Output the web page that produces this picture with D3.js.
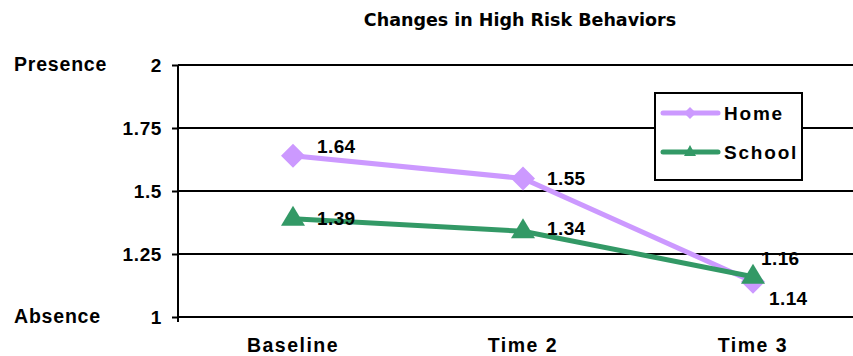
<!DOCTYPE html>
<html>
<head>
<meta charset="utf-8">
<script src="https://cdn.jsdelivr.net/npm/d3@7"></script>
<style>
  html, body { margin: 0; padding: 0; background: #fff; }
  svg { display: block; }
  text { font-family: "Liberation Sans", Arial, sans-serif; font-weight: bold; fill: #000; }
</style>
</head>
<body>
<svg id="chart" width="853" height="356"></svg>
<script>
// Chart data
const categories = ["Baseline", "Time 2", "Time 3"];
const homeValues = [1.64, 1.55, 1.14];
const schoolValues = [1.39, 1.34, 1.16];
const yTicks = [1, 1.25, 1.5, 1.75, 2];
const yTickLabels = ["1", "1.25", "1.5", "1.75", "2"];
const seriesNames = ["Home", "School"];

const svg = d3.select("#chart");
const W = 853, H = 356;

const x = d3.scaleBand().domain(categories).range([178, 868]);
const y = d3.scaleLinear().domain([1, 2]).range([317, 65]);

const purple = "#CC99FF";
const green = "#339966";

// Title
svg.append("text")
  .attr("x", 520).attr("y", 26)
  .attr("text-anchor", "middle")
  .style("font-family", "'DejaVu Sans', sans-serif")
  .style("font-size", "17.5px")
  .text("Changes in High Risk Behaviors");

// Horizontal gridlines
svg.append("g").selectAll("line").data(yTicks).join("line")
  .attr("x1", 178).attr("x2", W)
  .attr("y1", d => y(d)).attr("y2", d => y(d))
  .attr("stroke", "#000").attr("stroke-width", 2);

// Y axis with outward ticks
const yAxis = d3.axisLeft(y)
  .tickValues(yTicks)
  .tickFormat((d, i) => yTickLabels[i])
  .tickSize(6).tickPadding(10);
const gy = svg.append("g").attr("transform", "translate(178,0)").call(yAxis);
gy.select(".domain").remove();
gy.selectAll(".tick line").attr("stroke", "#000").attr("stroke-width", 2);
gy.selectAll(".tick text")
  .style("font-size", "19px")
  .style("letter-spacing", "0.6px")
  .style("font-family", "'Liberation Sans', Arial, sans-serif")
  .style("font-weight", "bold")
  .attr("dy", "0.36em")
  .attr("fill", "#000");
svg.append("line")
  .attr("x1", 178).attr("x2", 178)
  .attr("y1", y(2)).attr("y2", y(1) + 5)
  .attr("stroke", "#000").attr("stroke-width", 2);

// Presence / Absence anchors
svg.append("text").attr("x", 14).attr("y", y(2) + 6)
  .style("font-size", "19.5px").style("letter-spacing", "0.8px").text("Presence");
svg.append("text").attr("x", 14).attr("y", y(1) + 6)
  .style("font-size", "19.5px").style("letter-spacing", "0.8px").text("Absence");

// Category labels
svg.append("g").selectAll("text").data(categories).join("text")
  .attr("x", d => x(d) + x.bandwidth() / 2)
  .attr("y", 352)
  .attr("text-anchor", "middle")
  .style("font-size", "19.5px")
  .style("letter-spacing", "1.5px")
  .text(d => d);

const cx = d => x(d) + x.bandwidth() / 2;
const line = d3.line().x(d => cx(d.c)).y(d => y(d.v));

const home = categories.map((c, i) => ({ c, v: homeValues[i] }));
const school = categories.map((c, i) => ({ c, v: schoolValues[i] }));

// Home series
svg.append("path").datum(home).attr("d", line)
  .attr("fill", "none").attr("stroke", purple).attr("stroke-width", 5);
svg.append("g").selectAll("path").data(home).join("path")
  .attr("transform", d => `translate(${cx(d.c)},${y(d.v)})`)
  .attr("d", "M0,-12L12,0L0,12L-12,0Z")
  .attr("fill", purple);

// School series
svg.append("path").datum(school).attr("d", line)
  .attr("fill", "none").attr("stroke", green).attr("stroke-width", 5);
svg.append("g").selectAll("path").data(school).join("path")
  .attr("transform", d => `translate(${cx(d.c)},${y(d.v)})`)
  .attr("d", "M0,-13L12,7L-12,7Z")
  .attr("fill", green);

// Value labels
const homeOffsets = [[24, -3], [24, 7], [16, 23]];
const schoolOffsets = [[24, 6], [24, 4], [8, -12]];
svg.append("g").selectAll("text").data(home).join("text")
  .attr("x", (d, i) => cx(d.c) + homeOffsets[i][0])
  .attr("y", (d, i) => y(d.v) + homeOffsets[i][1])
  .style("font-size", "19px")
  .style("letter-spacing", "0.4px")
  .text(d => d.v.toFixed(2));
svg.append("g").selectAll("text").data(school).join("text")
  .attr("x", (d, i) => cx(d.c) + schoolOffsets[i][0])
  .attr("y", (d, i) => y(d.v) + schoolOffsets[i][1])
  .style("font-size", "19px")
  .style("letter-spacing", "0.4px")
  .text(d => d.v.toFixed(2));

// Legend
const lg = svg.append("g");
lg.append("rect").attr("x", 655).attr("y", 93).attr("width", 147).attr("height", 87)
  .attr("fill", "#fff").attr("stroke", "#000").attr("stroke-width", 2);
const legendColors = [purple, green];
seriesNames.forEach((name, i) => {
  const ly = 113 + i * 39;
  lg.append("line").attr("x1", 663).attr("x2", 718).attr("y1", ly).attr("y2", ly)
    .attr("stroke", legendColors[i]).attr("stroke-width", 5).attr("stroke-linecap", "round");
  if (i === 0) {
    lg.append("path").attr("transform", `translate(690,${ly})`)
      .attr("d", "M0,-6L6,0L0,6L-6,0Z").attr("fill", purple);
  } else {
    lg.append("path").attr("transform", `translate(690,${ly})`)
      .attr("d", "M0,-7L6,4L-6,4Z").attr("fill", green);
  }
  lg.append("text").attr("x", 724).attr("y", ly + 7)
    .style("font-size", "19px").style("letter-spacing", "1.8px").text(name);
});
</script>
</body>
</html>
